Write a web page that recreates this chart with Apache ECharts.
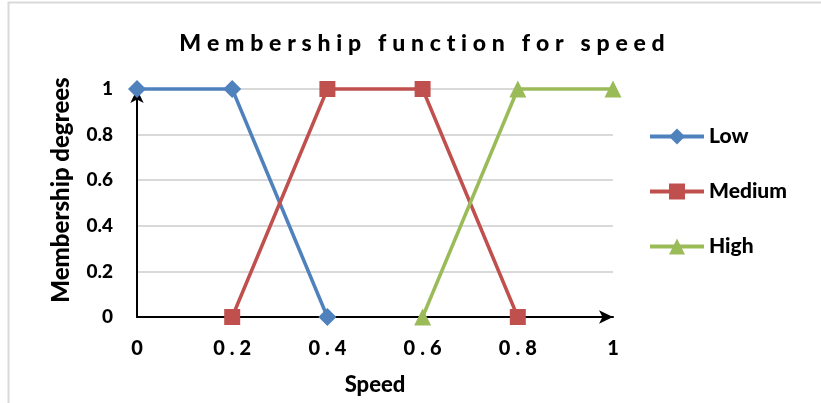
<!DOCTYPE html>
<html>
<head>
<meta charset="utf-8">
<script src="https://cdn.jsdelivr.net/npm/echarts@6/dist/echarts.min.js"></script>
<style>html,body{margin:0;padding:0;background:#fff}#c{width:821px;height:403px}</style>
</head>
<body>
<div id="c"></div>
<script>
const titleText = 'Membership function for speed';
const xAxisTitle = 'Speed';
const yAxisTitle = 'Membership degrees';
const xTicks = [0, 0.2, 0.4, 0.6, 0.8, 1];
const yTicks = [0, 0.2, 0.4, 0.6, 0.8, 1];
const lowX = [0, 0.2, 0.4];
const lowY = [1, 1, 0];
const mediumX = [0.2, 0.4, 0.6, 0.8];
const mediumY = [0, 1, 1, 0];
const highX = [0.6, 0.8, 1];
const highY = [0, 1, 1];

const FONT = 'Lato';
const W = 900;
const spaced = (s, sp) => String(s).split('').join(sp);
const pair = (xs, ys) => xs.map((x, i) => [x, ys[i]]);

const chart = echarts.init(document.getElementById('c'));
const mk = (name, xs, ys, color, symbol, size) => ({
  name, type: 'line', data: pair(xs, ys), clip: false,
  symbol, symbolSize: size, showSymbol: true,
  lineStyle: { color, width: 3.5 },
  itemStyle: { color },
  emphasis: { disabled: true }
});
chart.setOption({
  animation: false,
  backgroundColor: '#fff',
  textStyle: { fontFamily: FONT },
  title: {
    text: spaced(titleText, '\u2005'),
    left: 417, top: 27, textAlign: 'center',
    textStyle: { fontFamily: FONT, fontWeight: W, fontSize: 23, color: '#000' }
  },
  graphic: [{
    type: 'rect', silent: true,
    shape: { x: 8.5, y: 2.5, width: 900, height: 500 },
    style: { fill: 'none', stroke: '#d9d9d9', lineWidth: 2 }
  }],
  legend: {
    orient: 'vertical', left: 643, top: 121,
    itemWidth: 54, itemHeight: 20, itemGap: 34,
    data: ['Low', 'Medium', 'High'],
    lineStyle: { width: 4 },
    textStyle: { fontFamily: FONT, fontWeight: W, fontSize: 21, color: '#000', lineHeight: 20 }
  },
  grid: { left: 137, right: 208, top: 89, bottom: 86, containLabel: false },
  xAxis: {
    type: 'value', min: xTicks[0], max: xTicks[xTicks.length - 1], interval: 0.2,
    name: xAxisTitle, nameLocation: 'middle', nameGap: 57,
    nameTextStyle: { fontFamily: FONT, fontWeight: W, fontSize: 22, color: '#000' },
    axisLine: { show: true, symbol: ['none', 'arrow'], symbolSize: [10, 14], lineStyle: { color: '#000', width: 2 } },
    axisTick: { show: false },
    splitLine: { show: false },
    axisLabel: {
      margin: 22, fontFamily: FONT, fontWeight: W, fontSize: 20, color: '#000',
      formatter: v => { const t = xTicks.find(k => Math.abs(k - v) < 1e-9); return spaced(t === undefined ? v : t, '\u2005'); }
    }
  },
  yAxis: {
    type: 'value', min: yTicks[0], max: yTicks[yTicks.length - 1], interval: 0.2,
    name: yAxisTitle, nameLocation: 'middle', nameGap: 64, nameRotate: 90,
    nameTextStyle: { fontFamily: FONT, fontWeight: W, fontSize: 24, color: '#000', padding: [0, 0, 0, 26] },
    axisLine: { show: true, symbol: ['none', 'arrow'], symbolSize: [10, 14], lineStyle: { color: '#000', width: 2 } },
    axisTick: { show: false },
    splitLine: { show: true, lineStyle: { color: '#d9d9d9', width: 2 } },
    axisLabel: {
      margin: 24, fontFamily: FONT, fontWeight: W, fontSize: 19, color: '#000',
      formatter: v => { const t = yTicks.find(k => Math.abs(k - v) < 1e-9); return String(t === undefined ? v : t); }
    }
  },
  series: [
    mk('Low', lowX, lowY, '#4F81BD', 'diamond', 18),
    mk('Medium', mediumX, mediumY, '#C0504D', 'rect', 16),
    mk('High', highX, highY, '#9BBB59', 'triangle', 17)
  ]
});
</script>
</body>
</html>
